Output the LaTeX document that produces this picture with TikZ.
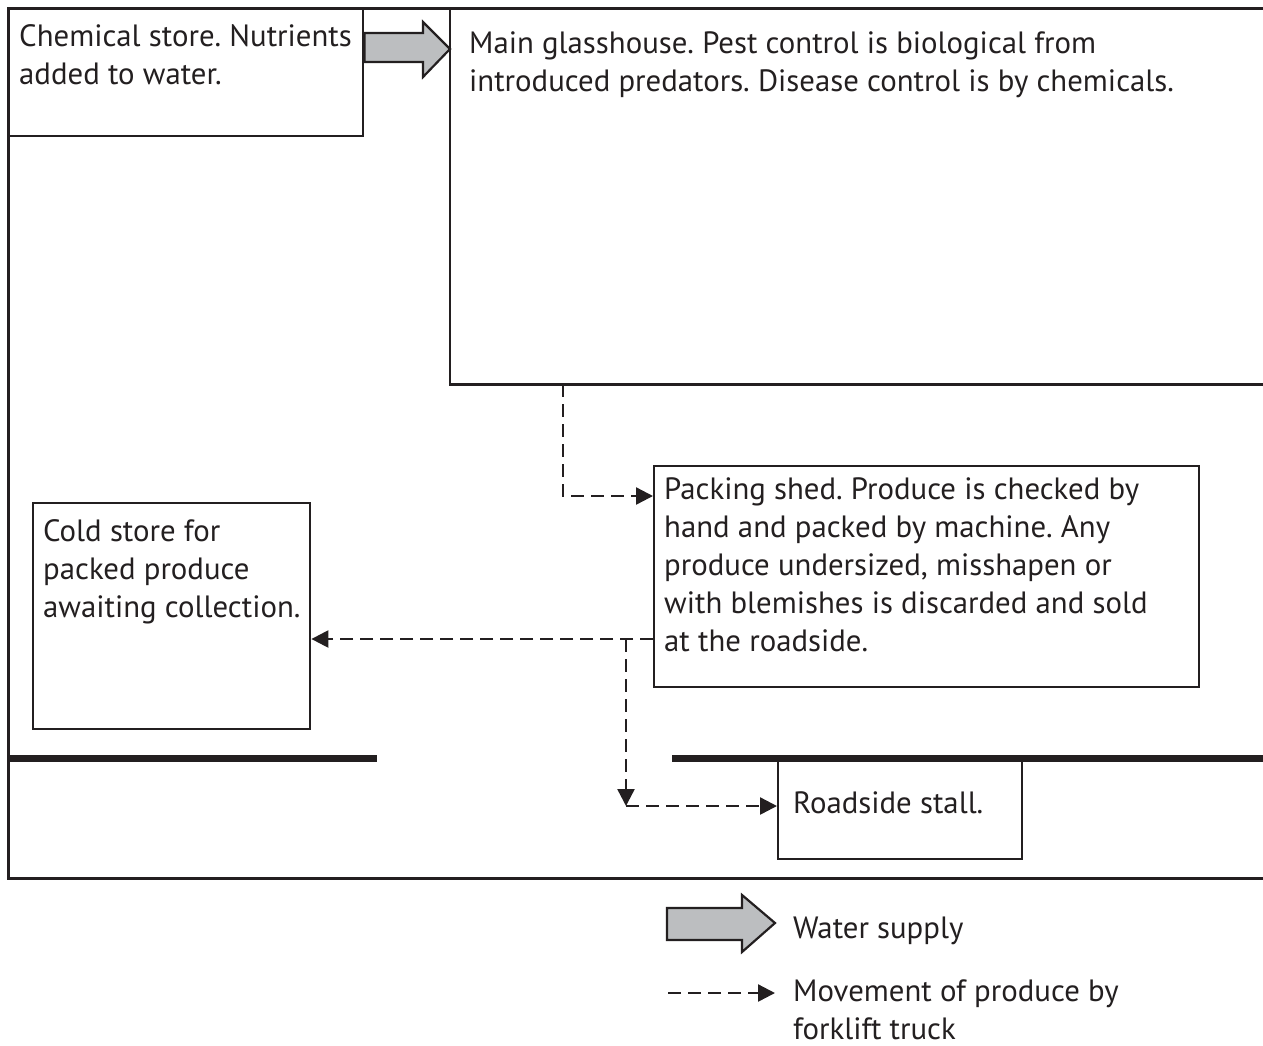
\documentclass[tikz,border=0pt]{standalone}
\usepackage{fontspec}
\setmainfont{PT Sans}
\frenchspacing
\usetikzlibrary{arrows.meta}
\definecolor{ink}{HTML}{231F20}
\definecolor{pipe}{HTML}{BCBEC0}
\begin{document}
\begin{tikzpicture}[x=1pt,y=-1pt,
  box/.style={draw=ink,line width=2.4pt,inner sep=0pt,anchor=north west},
  txt/.style={anchor=base west,inner sep=0pt,align=left,text=ink,font=\fontsize{30.8}{38}\selectfont},
  flow/.style={draw=ink,line width=2.4pt,dash pattern=on 13pt off 7pt,-{Triangle[length=17pt,width=17pt]}},
  water/.style={fill=pipe,draw=ink,line width=2.2pt,line join=miter},
  road/.style={draw=ink,line width=7pt}]
\useasboundingbox (0,0) rectangle (1263,1045);
% outer site boundary
\draw[ink,line width=3pt] (1263,8) -- (8,8) -- (8,878) -- (1263,878);
% boxes
\node[box,minimum width=354pt,minimum height=127pt] (chem) at (8,8) {};
\node[draw=none,inner sep=0pt,anchor=north west,minimum width=813pt,minimum height=376pt] (glass) at (450,8) {};
\draw[ink,line width=2.4pt] (glass.north east) -- (glass.north west) -- (glass.south west) -- (glass.south east);
\node[box,minimum width=545pt,minimum height=221pt] (pack) at (653,465) {};
\node[box,minimum width=277pt,minimum height=226pt] (cold) at (32,502) {};
\node[box,minimum width=244pt,minimum height=100pt] (stall) at (777,758) {};
% roads
\draw[road] (8,758) -- (377,758);
\draw[road] (672,758) -- (1263,758);
% texts (anchor = baseline of last line)
\node[txt] (tchem) at (19,84) {Chemical store. Nutrients\\added to water.};
\node[txt] (tglass) at (469,91) {Main glasshouse. Pest control is biological from\\introduced predators. Disease control is by chemicals.};
\node[txt] (tpack) at (664,651) {Packing shed. Produce is checked by\\hand and packed by machine. Any\\produce undersized, misshapen or\\with blemishes is discarded and sold\\at the roadside.};
\node[txt] (tcold) at (43,617) {Cold store for\\packed produce\\awaiting collection.};
\node[txt] (tstall) at (793,813) {Roadside stall.};
% water supply arrow
\draw[water] (chem.east |- 0,33) -- (423,33) -- (423,22) -- (glass.west |- 0,49) -- (423,77) -- (423,62) -- (chem.east |- 0,62) -- cycle;
% produce movement
\coordinate (j1) at (563,496);
\draw[flow] (j1 |- glass.south) -- (j1) -- (j1 -| pack.west);
\coordinate (j2) at (626,639);
\coordinate (j3) at (626,806);
\draw[flow] (pack.west |- j2) -- (j2 -| cold.east);
\draw[flow] (j2) -- (j3);
\draw[flow] (j3) -- (j3 -| stall.west);
% legend
\draw[water] (667,908) -- (742,908) -- (742,895) -- (775,923) -- (742,952) -- (742,940) -- (667,940) -- cycle;
\node[txt] (lwt) at (793,938) {Water supply};
\coordinate (lf1) at (668,993);
\coordinate (lf2) at (775,993);
\draw[flow] (lf1) -- (lf2);
\node[txt] (lft) at (793,1039) {Movement of produce by\\forklift truck};
\end{tikzpicture}
\end{document}
